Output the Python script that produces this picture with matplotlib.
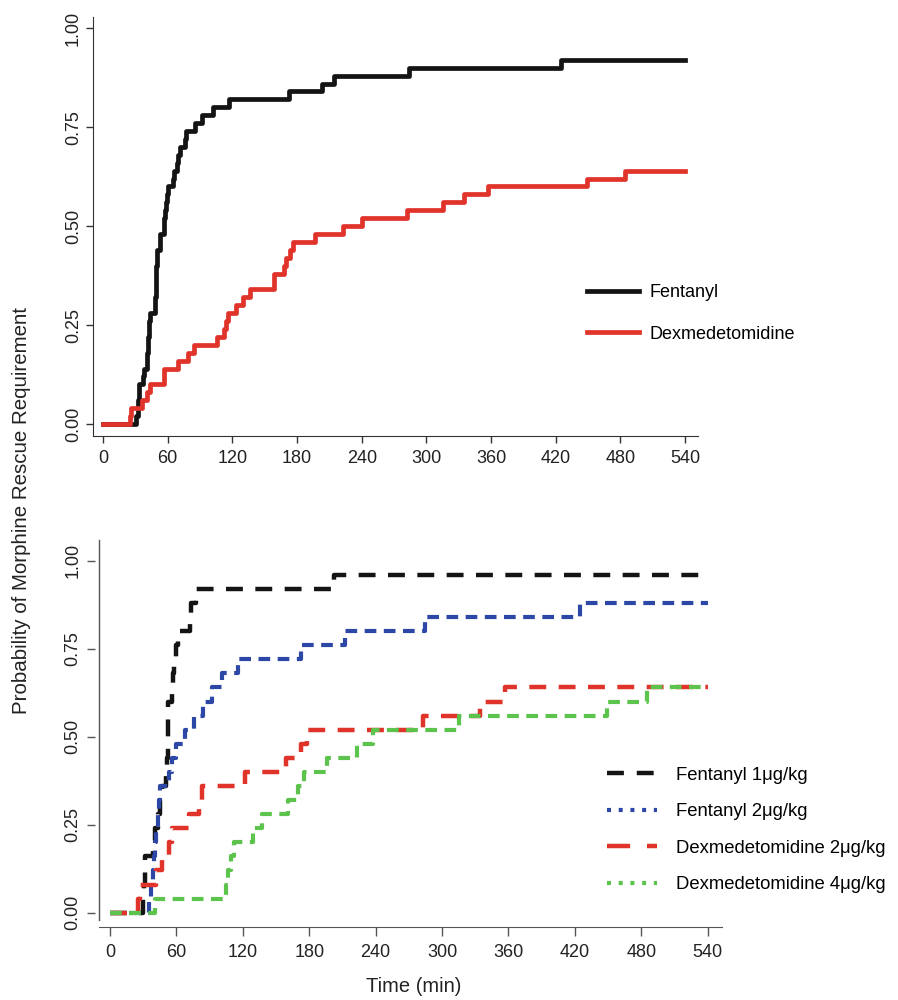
import matplotlib.pyplot as plt
from matplotlib.lines import Line2D

plt.rcParams['font.family'] = ['Liberation Sans', 'DejaVu Sans']

END = 540  # end of follow-up (min)

# top panel: pooled groups (time of event, cumulative probability after it)
fent_t = [0, 31, 32, 33, 37.5, 38, 41, 42, 43, 43.6, 48.2, 48.7, 49.2, 49.8, 52.5, 53,
          56.5, 57.5, 58.5, 59.5, 60.6, 65, 65.5, 68.3, 70, 71.4, 76, 77, 85.3, 91.5,
          102.3, 117, 173, 203, 214, 284, 425]
fent_p = [0, 0.02, 0.06, 0.10, 0.12, 0.14, 0.18, 0.22, 0.26, 0.28, 0.32, 0.36, 0.40, 0.44,
          0.46, 0.48, 0.52, 0.54, 0.56, 0.58, 0.60, 0.62, 0.64, 0.66, 0.68, 0.70, 0.72, 0.74,
          0.76, 0.78, 0.80, 0.82, 0.84, 0.86, 0.88, 0.90, 0.92]
dex_t = [0, 25, 26, 36, 41, 44, 57, 70, 79, 84, 106, 112, 114.5, 116, 123, 130, 136, 159,
         168, 170, 173.5, 176.5, 197, 223, 240, 282, 315, 335, 357.5, 449, 484]
dex_p = [0, 0.02, 0.04, 0.06, 0.08, 0.10, 0.14, 0.16, 0.18, 0.20, 0.22, 0.24, 0.26, 0.28,
         0.30, 0.32, 0.34, 0.38, 0.40, 0.42, 0.44, 0.46, 0.48, 0.50, 0.52, 0.54, 0.56, 0.58,
         0.60, 0.62, 0.64]

# bottom panel: by dose
f1_t = [0, 30, 31, 31.5, 32, 39, 41, 43, 45, 47, 51, 51.5, 52, 52.3, 52.5, 52.7, 56, 57,
        58, 59.5, 61.7, 72, 73, 78, 202]
f1_p = [0, 0.04, 0.08, 0.12, 0.16, 0.20, 0.24, 0.28, 0.32, 0.36, 0.40, 0.44, 0.48, 0.52,
        0.56, 0.60, 0.64, 0.68, 0.72, 0.76, 0.80, 0.84, 0.88, 0.92, 0.96]
f2_t = [0, 35, 37, 38.5, 40, 41, 42, 43, 44, 45.5, 53, 56, 60, 68, 76, 84, 92, 101, 116,
        173, 212, 285, 425]
f2_p = [0, 0.04, 0.08, 0.12, 0.16, 0.20, 0.24, 0.28, 0.32, 0.36, 0.40, 0.44, 0.48, 0.52,
        0.56, 0.60, 0.64, 0.68, 0.72, 0.76, 0.80, 0.84, 0.88]
d2_t = [0, 25, 27, 42, 47, 53, 56, 71, 80, 83, 122, 159, 173, 178, 283, 334, 357]
d2_p = [0, 0.04, 0.08, 0.12, 0.16, 0.20, 0.24, 0.28, 0.32, 0.36, 0.40, 0.44, 0.48, 0.52,
        0.56, 0.60, 0.64]
d4_t = [0, 41, 105, 107, 109, 112, 129, 137, 161, 170, 175, 196, 223, 238, 315, 449, 485]
d4_p = [0, 0.04, 0.08, 0.12, 0.16, 0.20, 0.24, 0.28, 0.32, 0.36, 0.40, 0.44, 0.48, 0.52,
        0.56, 0.60, 0.64]

xticks = list(range(0, 541, 60))
yticks = [0, 0.25, 0.5, 0.75, 1.0]
ylabels = ['0.00', '0.25', '0.50', '0.75', '1.00']

BLACK = '#141414'
RED = '#e0332a'
BLUE = '#2d47a6'
GREEN = '#5cc44c'


def km(ax, t, p, **kw):
    ax.step(t + [END], p + [p[-1]], where='post', **kw)


fig = plt.figure(figsize=(8.98, 10), dpi=100)

# ---- top panel
ax1 = fig.add_axes([93/898, 1-436/1000, 605/898, 419/1000])
km(ax1, fent_t, fent_p, color=BLACK, lw=3.4, label='Fentanyl')
km(ax1, dex_t, dex_p, color=RED, lw=3.4, label='Dexmedetomidine')
ax1.set_xlim(-9.3, 552)
ax1.set_ylim(-0.0303, 1.028)
ax1.spines[['top', 'right']].set_visible(False)
for s in ['left', 'bottom']:
    ax1.spines[s].set_color('#333333')
ax1.set_xticks(xticks)
ax1.set_yticks(yticks, ylabels)
ax1.tick_params(colors='#333333', labelcolor='#222222', labelsize=13, length=5, width=1)
ax1.tick_params(axis='x', pad=4.8)
ax1.tick_params(axis='y', pad=3)
for lab in ax1.get_yticklabels():
    lab.set_rotation(90)
    lab.set_va('center')
ax1.legend(loc='center left', bbox_to_anchor=(587/898, 1-313.5/1000),
           bbox_transform=fig.transFigure, frameon=False, fontsize=13,
           borderpad=0, borderaxespad=0, handlelength=2.9, handletextpad=0.55,
           labelspacing=1.33)

# ---- bottom panel
ax2 = fig.add_axes([99/898, 1-927/1000, 623/898, 387/1000])
km(ax2, f1_t, f1_p, color=BLACK, lw=3.2, dashes=(3.8, 2.8))
km(ax2, f2_t, f2_p, color=BLUE, lw=3.0, dashes=(2.8, 1.8))
km(ax2, d2_t, d2_p, color=RED, lw=3.2, dashes=(3.8, 2.8))
km(ax2, d4_t, d4_p, color=GREEN, lw=3.0, dashes=(2.8, 1.8))
ax2.set_xlim(-9.94, 553)
ax2.set_ylim(-0.0406, 1.0588)
ax2.spines[['top', 'right']].set_visible(False)
ax2.spines['bottom'].set_color('#555555')
ax2.spines['left'].set_position(('outward', 3))
ax2.spines['left'].set_visible(False)
ax2.plot([0, 0], [-0.0207, 1.0588], transform=ax2.get_yaxis_transform(),
         color='#555555', lw=1, clip_on=False)
ax2.set_xticks(xticks)
ax2.set_yticks(yticks, ylabels)
ax2.tick_params(colors='#555555', labelcolor='#222222', labelsize=13, width=1)
ax2.tick_params(axis='x', pad=5.5, length=6.5)
ax2.tick_params(axis='y', pad=4.3, length=5.5)
for lab in ax2.get_yticklabels():
    lab.set_rotation(90)
    lab.set_va('center')

handles = [
    Line2D([], [], color=BLACK, lw=3.2, dashes=(3.8, 2.9)),
    Line2D([], [], color=BLUE, lw=3.0, dashes=(0.96, 1.85)),
    Line2D([], [], color=RED, lw=3.2, dashes=(5.2, 3.8)),
    Line2D([], [], color=GREEN, lw=3.0, dashes=(0.96, 1.85)),
]
labels = ['Fentanyl 1μg/kg', 'Fentanyl 2μg/kg', 'Dexmedetomidine 2μg/kg',
          'Dexmedetomidine 4μg/kg']
ax2.legend(handles, labels, loc='center left', bbox_to_anchor=(607/898, 1-830/1000),
           bbox_transform=fig.transFigure, frameon=False, fontsize=13.3,
           borderpad=0, borderaxespad=0, handlelength=2.7, handletextpad=1.05,
           labelspacing=1.05)

fig.text(22/898, 1-511/1000, 'Probability of Morphine Rescue Requirement', rotation=90,
         ha='center', va='center', fontsize=14.8, color='#222222')
fig.text(414/898, 1-987/1000, 'Time (min)', ha='center', va='center', fontsize=14.5,
         color='#222222')

fig.savefig('out.png', dpi=100)
